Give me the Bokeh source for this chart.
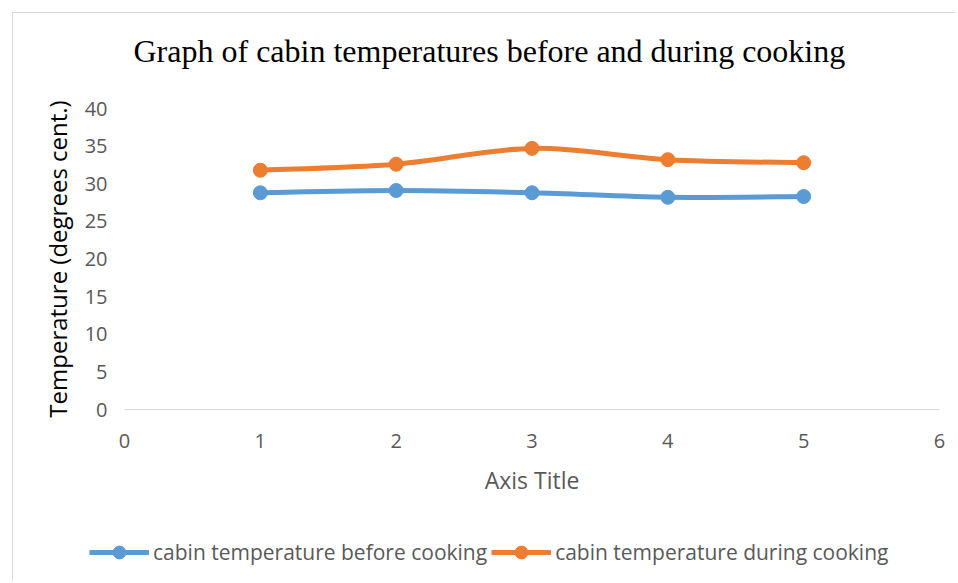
from bokeh.plotting import figure
from bokeh.models import Range1d, FixedTicker, Legend, LegendItem, Label
from bokeh.layouts import column
from bokeh.embed import file_html
from bokeh.resources import INLINE

# ---- data ----
x_values = [1, 2, 3, 4, 5]
before_cooking = [28.8, 29.1, 28.8, 28.2, 28.3]
during_cooking = [31.8, 32.6, 34.7, 33.2, 32.8]
x_ticks = [0, 1, 2, 3, 4, 5, 6]
y_ticks = [0, 5, 10, 15, 20, 25, 30, 35, 40]
series_names = ["cabin temperature before cooking", "cabin temperature during cooking"]
title_text = "Graph of cabin temperatures before and during cooking"

BLUE = "#5B9BD5"
ORANGE = "#ED7D31"
GREY_TXT = "#595959"
W = 942


def blank_fig(h):
    f = figure(width=W, height=h, output_backend="svg", toolbar_location=None,
               x_range=Range1d(0, 1), y_range=Range1d(0, 1), min_border=0)
    f.frame_align = False
    f.axis.visible = False
    f.grid.visible = False
    f.outline_line_color = None
    f.background_fill_color = "white"
    f.border_fill_color = "white"
    return f


# title strip
t = blank_fig(75)
t.add_layout(Label(x=120, y=38, x_units="screen", y_units="screen", text=title_text,
                   text_font="Liberation Serif", text_font_size="32px", text_color="black",
                   text_align="left", text_baseline="alphabetic"))

# main chart
p = figure(width=W, height=425, output_backend="svg", toolbar_location=None,
           x_range=Range1d(0, 6), y_range=Range1d(0, 40),
           min_border_left=111, min_border_right=16, min_border_top=20,
           min_border_bottom=104)
p.frame_align = False
p.outline_line_color = None
p.xgrid.grid_line_color = None
p.ygrid.grid_line_color = None
p.background_fill_color = "white"
p.border_fill_color = "white"


def smooth_segments(xs, ys):
    # Bezier control points for a smoothed (Catmull-Rom style) line through the data
    n = len(xs)
    segs = {"x0": [], "y0": [], "x1": [], "y1": [], "cx0": [], "cy0": [], "cx1": [], "cy1": []}
    for i in range(n - 1):
        pxm = xs[i - 1] if i > 0 else xs[i]
        pym = ys[i - 1] if i > 0 else ys[i]
        pxp = xs[i + 2] if i + 2 < n else xs[i + 1]
        pyp = ys[i + 2] if i + 2 < n else ys[i + 1]
        segs["x0"].append(xs[i]); segs["y0"].append(ys[i])
        segs["x1"].append(xs[i + 1]); segs["y1"].append(ys[i + 1])
        segs["cx0"].append(xs[i] + (xs[i + 1] - pxm) / 6)
        segs["cy0"].append(ys[i] + (ys[i + 1] - pym) / 6)
        segs["cx1"].append(xs[i + 1] - (pxp - xs[i]) / 6)
        segs["cy1"].append(ys[i + 1] - (pyp - ys[i]) / 6)
    return segs


series = [(series_names[0], before_cooking, BLUE), (series_names[1], during_cooking, ORANGE)]
for name, ys, col in series:
    s = smooth_segments(x_values, ys)
    p.bezier(x0=s["x0"], y0=s["y0"], x1=s["x1"], y1=s["y1"],
             cx0=s["cx0"], cy0=s["cy0"], cx1=s["cx1"], cy1=s["cy1"],
             line_color=col, line_width=5, line_cap="round")
    p.scatter(x_values, ys, size=14, fill_color=col, line_color=col, marker="circle")

# axes
for ax in (p.xaxis[0], p.yaxis[0]):
    ax.major_tick_line_color = None
    ax.minor_tick_line_color = None
    ax.major_label_text_font = "Open Sans"
    ax.major_label_text_font_size = "20px"
    ax.major_label_text_color = GREY_TXT
p.xaxis.ticker = FixedTicker(ticks=x_ticks)
p.yaxis.ticker = FixedTicker(ticks=y_ticks)
p.xaxis.axis_line_color = "#d9d9d9"
p.xaxis.axis_line_width = 1
p.yaxis.axis_line_color = None
p.xaxis.major_label_standoff = 18
p.yaxis.major_label_standoff = 11

p.xaxis.axis_label = "Axis Title"
p.xaxis.axis_label_text_font = "Open Sans"
p.xaxis.axis_label_text_font_size = "23px"
p.xaxis.axis_label_text_font_style = "normal"
p.xaxis.axis_label_text_color = GREY_TXT
p.xaxis.axis_label_standoff = 13

p.yaxis.axis_label = "Temperature (degrees cent.)"
p.yaxis.axis_label_text_font = "Open Sans"
p.yaxis.axis_label_text_font_size = "24px"
p.yaxis.axis_label_text_font_style = "normal"
p.yaxis.axis_label_text_color = "black"
p.yaxis.axis_label_standoff = 8

# legend strip below the chart
q = blank_fig(68)
items = []
for name, ys, col in series:
    ln = q.line(x=[-5, -4], y=[-5, -5], line_color=col, line_width=5)
    sc = q.scatter(x=[-5], y=[-5], size=14, fill_color=col, line_color=col, marker="circle")
    items.append(LegendItem(label=name, renderers=[ln, sc]))
legend = Legend(items=items, orientation="horizontal", location=(76, 13),
                glyph_width=60, glyph_height=32, label_standoff=4, spacing=4,
                label_text_font="Open Sans", label_text_font_size="21px",
                label_text_color=GREY_TXT, border_line_color=None,
                background_fill_alpha=0, padding=0, margin=0)
q.add_layout(legend, "center")

layout = column(t, p, q, margin=(12, 0, 0, 12), spacing=0,
                styles={"border-top": "1px solid #d9d9d9", "border-left": "1px solid #d9d9d9"})

open("out.html", "w").write(file_html(layout, INLINE))
